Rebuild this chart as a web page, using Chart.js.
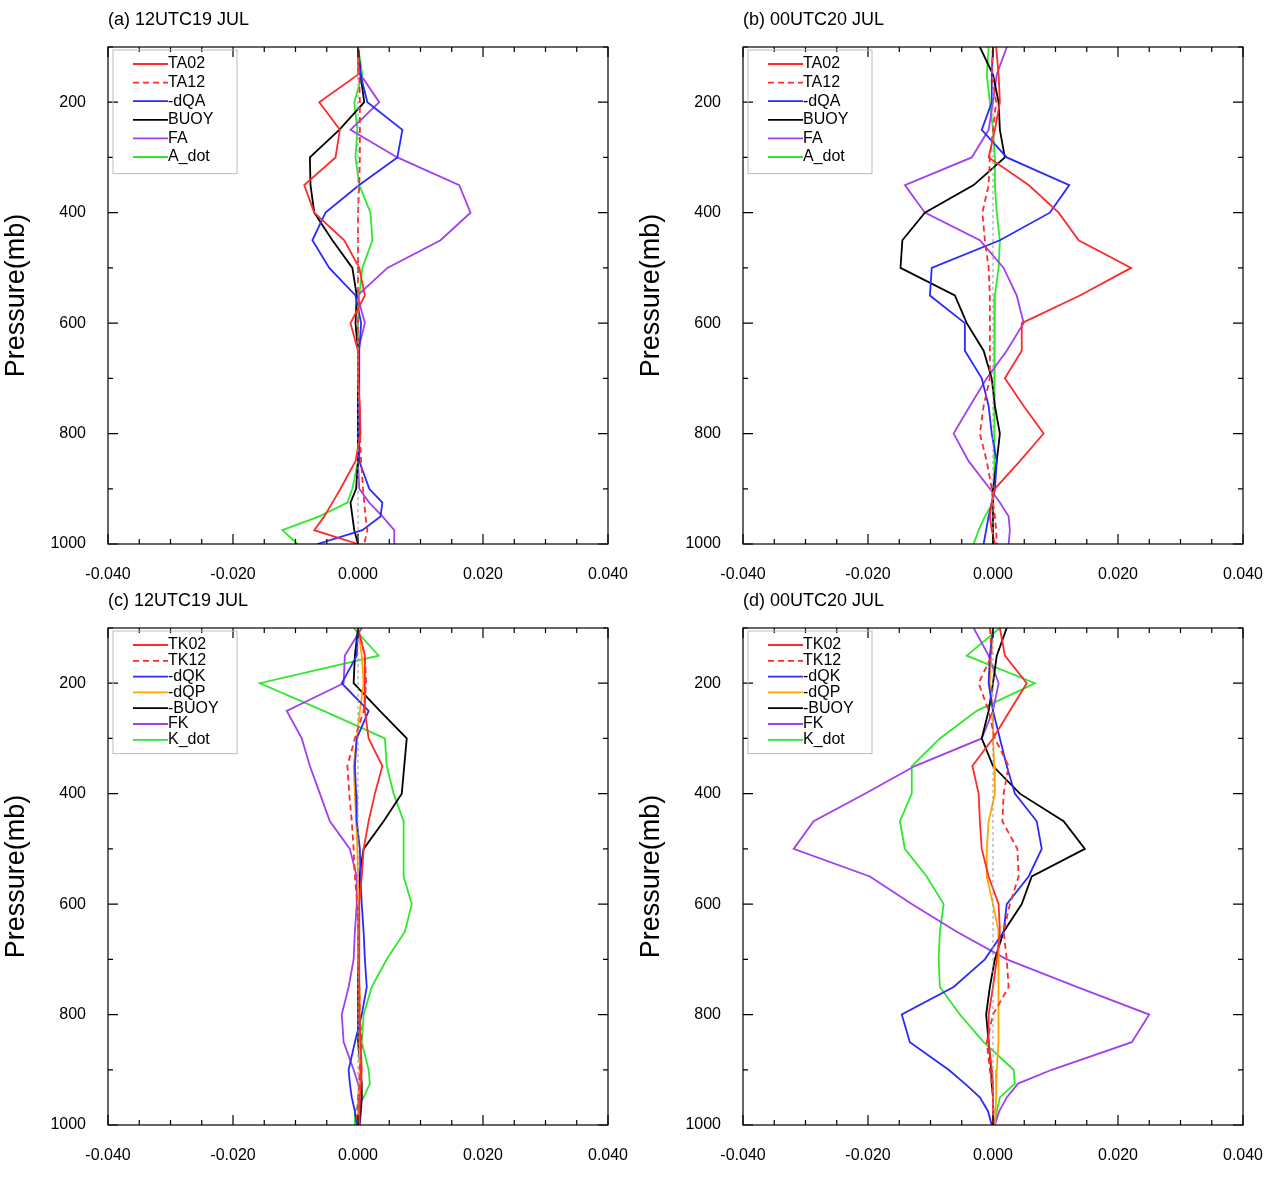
<!DOCTYPE html>
<html>
<head>
<meta charset="utf-8">
<script src="https://cdn.jsdelivr.net/npm/chart.js@4"></script>
<style>
  body { margin: 0; background: #fff; width: 1269px; height: 1179px; position: relative; overflow: hidden; }
  .pan { position: absolute; }
</style>
</head>
<body>
<div class="pan" style="left:0;top:0;width:635px;height:590px"><canvas id="ca"></canvas></div>
<div class="pan" style="left:635px;top:0;width:634px;height:590px"><canvas id="cb"></canvas></div>
<div class="pan" style="left:0;top:581px;width:635px;height:590px"><canvas id="cc"></canvas></div>
<div class="pan" style="left:635px;top:581px;width:634px;height:590px"><canvas id="cd"></canvas></div>
<script>
// pressure levels (mb); values in 1e-3 units
const levels = [100,150,200,250,300,350,400,450,500,550,600,650,700,750,800,850,900,925,950,975,1000];
const xTicks = [-0.04, -0.02, 0, 0.02, 0.04];
const yTicks = [200, 400, 600, 800, 1000];

// (a) 12UTC19 JUL
const aTA02 = [0,0,-6.2,-2.9,-3.6,-8.6,-7.0,-2.2,0.2,1.1,-1.2,0,0,0.3,0.4,-0.4,-2.8,-4.1,-5.4,-7.0,0];
const aTA12 = [0,0.2,0.3,0.3,0.3,0.2,0,0,0,0,0,0,0,0.2,0.3,0.5,0.8,1.0,1.2,1.5,1.0];
const aDQA  = [0,0.4,1.5,7.1,6.3,0.2,-5.2,-7.3,-4.6,-0.4,0.5,0.2,0.2,0.2,0.2,0.2,1.8,3.9,3.6,0.7,-6.5];
const aBUOY = [0,0.4,1.0,-3.0,-7.7,-7.6,-7.0,-4.1,-0.9,-0.2,-0.4,0,0,0,0,0,-0.3,-1.2,-0.9,-0.6,0];
const aFA   = [0,0.4,3.4,-1.2,6.3,16.2,18.0,13.2,4.7,-0.1,1.1,0,0,0,0,0,0.2,1.8,3.9,5.8,5.8];
const aADOT = [0,0.7,-0.6,-0.1,-0.4,0.2,2.0,2.3,0.7,0.2,0,0,0,0,0,0,-0.9,-1.7,-6.2,-12.1,-9.7];

// (b) 00UTC20 JUL
const bTA02 = [0.5,0.9,1.1,0.3,-0.7,5.7,10.5,13.7,22.1,13.9,4.6,4.6,1.9,4.9,8.1,4.3,0.3,-0.2,-0.5,-0.2,0.3];
const bTA12 = [0,-0.2,0.5,0,-0.5,-0.7,-1.7,-1.3,-0.7,-0.5,-0.5,-0.5,-0.5,-1.5,-2.1,-1.0,-0.2,0,0.3,0.5,0.6];
const bDQA  = [0,-0.2,-0.2,-1.8,2.2,12.2,9.1,1.1,-9.8,-10.1,-4.5,-4.5,-1.8,-0.7,-0.2,0.6,0.3,-0.2,-0.7,-1.1,-1.5];
const bBUOY = [-2.1,0,0.9,1.1,1.9,-3.1,-10.9,-14.5,-14.8,-6.1,-4.2,-1.5,-0.2,0.3,1.1,0.6,0,0,0,0,0];
const bFA   = [2.2,0.6,0,-0.7,-3.4,-14.1,-10.9,-2.1,1.7,3.8,4.9,2.2,-1.0,-3.7,-6.3,-3.9,-0.5,1.1,2.5,2.7,2.5];
const bADOT = [-0.7,-1.0,-0.5,0,0.3,0.3,0.6,1.1,0.9,0.3,0.2,0.2,0.2,0.2,0.2,0.2,0.3,0,-1.3,-2.3,-3.1];

// (c) 12UTC19 JUL
const cTK02 = [0,1.1,1.1,1.1,1.7,3.9,2.7,1.7,0.9,0.6,0.2,0.2,0.2,0.2,0.2,0.4,0.6,0.5,0.3,0.2,0.2];
const cTK12 = [0,1.1,1.3,0.9,-0.5,-1.7,-1.4,-1.0,-0.7,-0.5,-0.1,0,0.1,0.2,0.3,0.6,0.3,0.2,0,-0.1,-0.2];
const cDQK  = [0,-0.2,-2.6,1.7,-0.2,-0.5,-0.3,-0.2,0.3,0.4,0.6,0.9,1.1,1.4,0.6,-0.5,-1.5,-1.3,-1.0,-0.5,-0.2];
const cDQP  = [0,0.6,0.9,0.3,-0.2,-0.7,-0.5,-0.3,-0.1,0,0,0,0.1,0.2,0.3,0.3,0.3,0.2,0.1,0,-0.1];
const cBUOY = [0,-0.5,-0.7,3.5,7.8,7.4,7.0,4.1,0.9,0.2,0.1,0,0,0,0,0.1,0.4,0.6,0.6,0.4,0.2];
const cFK   = [0.6,-2.1,-2.3,-11.4,-9.0,-7.7,-6.1,-4.5,-1.3,-0.2,-0.2,-0.5,-0.7,-1.5,-2.6,-2.3,-0.7,0,0.6,0.5,0.3];
const cKDOT = [-0.7,3.3,-15.7,-5.5,4.3,4.6,5.7,7.3,7.3,7.3,8.6,7.5,4.6,2.2,0.9,0.6,1.7,1.9,0.9,-0.5,-0.5];

// (d) 00UTC20 JUL
const dTK02 = [1.1,1.9,5.4,2.7,0,-3.3,-2.3,-2.1,-1.8,-0.7,0.9,1.1,0.6,0,-0.7,-0.7,-0.2,0,0,0,0];
const dTK12 = [-0.5,-0.2,-2.3,-0.7,0.3,2.5,1.7,1.5,3.9,4.1,2.7,1.7,2.2,2.5,0,-1.0,-0.5,-0.2,0,0.1,0.1];
const dDQK  = [0,-0.5,-0.7,0,1.1,2.2,3.5,7.0,7.8,5.7,2.2,1.7,-1.3,-6.3,-14.6,-13.3,-7.1,-4.5,-2.1,-0.8,-0.2];
const dDQP  = [0,-0.3,-0.5,0,0,0.2,0.3,-0.7,-1.0,-1.0,0,0.9,0.9,0.9,0.9,0.8,0.6,0.5,0.5,0.4,0.3];
const dBUOY = [2.2,0.6,0,-0.7,-1.8,0,4.3,11.3,14.7,6.2,4.6,1.7,0.3,-0.5,-1.1,-0.7,-0.3,-0.2,0,0,0];
const dFK   = [-3.1,-0.7,0.9,0,-1.8,-12.5,-20.5,-28.7,-31.9,-19.7,-13.0,-5.8,2.2,13.4,25.0,22.2,9.4,4.0,2.2,1.0,0.3];
const dKDOT = [1.1,-4.2,6.7,-2.6,-8.5,-13.0,-13.0,-14.9,-14.1,-10.6,-7.9,-8.5,-8.7,-8.5,-5.3,-1.5,3.3,3.5,1.1,0.6,0.3];

const RED = '#ff2a2a', BLUE = '#2a2aff', BLACK = '#000', PURPLE = '#a23ff0', GREEN = '#2ee82e', ORANGE = '#ffa500';
const FONT = '"Liberation Sans", Arial, sans-serif';

function series(label, vals, color, dash) {
  return {
    label, borderColor: color, borderWidth: 1.8, borderDash: dash || [], pointRadius: 0,
    data: levels.map((p, i) => ({ x: vals[i] * 0.001, y: p }))
  };
}

const ncl = {
  id: 'ncl',
  afterDraw(chart, args, o) {
    const ctx = chart.ctx, a = chart.chartArea, sx = chart.scales.x, sy = chart.scales.y;
    ctx.save();
    ctx.strokeStyle = '#000'; ctx.lineWidth = 1.2;
    ctx.strokeRect(a.left, a.top, a.right - a.left, a.bottom - a.top);
    ctx.beginPath();
    for (let v = -0.04; v <= 0.0401; v += 0.005) {
      const x = sx.getPixelForValue(v), L = Math.abs(Math.round(v * 1000) % 20) === 0 ? 10 : 5;
      ctx.moveTo(x, a.bottom); ctx.lineTo(x, a.bottom - L);
      ctx.moveTo(x, a.top); ctx.lineTo(x, a.top + L);
    }
    for (let p = 100; p <= 1000; p += 100) {
      const y = sy.getPixelForValue(p), L = p % 200 === 0 ? 10 : 5;
      ctx.moveTo(a.left, y); ctx.lineTo(a.left + L, y);
      ctx.moveTo(a.right, y); ctx.lineTo(a.right - L, y);
    }
    ctx.stroke();
    ctx.fillStyle = '#000';
    ctx.font = '16px ' + FONT;
    ctx.textAlign = 'center'; ctx.textBaseline = 'middle';
    xTicks.forEach(v => ctx.fillText(v.toFixed(3), sx.getPixelForValue(v), a.bottom + 31));
    ctx.textAlign = 'right';
    yTicks.forEach(p => ctx.fillText(String(p), a.left - 22, sy.getPixelForValue(p)));
    ctx.font = '18px ' + FONT; ctx.textAlign = 'left';
    ctx.fillText(o.title, a.left, a.top - 27);
    ctx.save();
    ctx.translate(a.left - 91, (a.top + a.bottom) / 2);
    ctx.rotate(-Math.PI / 2);
    ctx.font = '27px ' + FONT; ctx.textAlign = 'center';
    ctx.fillText('Pressure(mb)', 0, 0);
    ctx.restore();
    // legend
    const ds = chart.data.datasets.filter(d => !d.hidden && d.label);
    const row = ds.length > 6 ? 15.8 : 18.6;
    const bx = a.left + 5, by = a.top + 3, bh = row * ds.length + 12;
    ctx.strokeStyle = '#bbb'; ctx.lineWidth = 1; ctx.strokeRect(bx, by, 124, bh);
    ctx.font = '16px ' + FONT; ctx.textAlign = 'left';
    ds.forEach((d, i) => {
      const y = by + 14 + i * row;
      ctx.strokeStyle = d.borderColor; ctx.lineWidth = 1.8; ctx.setLineDash(d.borderDash);
      ctx.beginPath(); ctx.moveTo(bx + 20, y); ctx.lineTo(bx + 55, y); ctx.stroke();
      ctx.setLineDash([]);
      ctx.fillStyle = '#000'; ctx.fillText(d.label, bx + 55, y);
    });
    ctx.restore();
  }
};

function panel(id, title, sets, padRight) {
  const zero = { label: '', borderColor: '#999', borderWidth: 1, borderDash: [3, 3], pointRadius: 0,
    data: [{ x: 0, y: 100 }, { x: 0, y: 1000 }] };
  new Chart(document.getElementById(id), {
    type: 'line',
    data: { datasets: [zero].concat(sets) },
    options: {
      responsive: true, maintainAspectRatio: false, animation: false,
      layout: { padding: { left: 108, top: 47, right: padRight, bottom: 46 } },
      scales: {
        x: { type: 'linear', min: -0.04, max: 0.04, display: false },
        y: { type: 'linear', min: 100, max: 1000, reverse: true, display: false }
      },
      plugins: { legend: { display: false }, tooltip: { enabled: false }, ncl: { title } }
    },
    plugins: [ncl]
  });
}

panel('ca', '(a) 12UTC19 JUL', [
  series('TA02', aTA02, RED), series('TA12', aTA12, RED, [6, 4]), series('-dQA', aDQA, BLUE),
  series('BUOY', aBUOY, BLACK), series('FA', aFA, PURPLE), series('A_dot', aADOT, GREEN)], 27);
panel('cb', '(b) 00UTC20 JUL', [
  series('TA02', bTA02, RED), series('TA12', bTA12, RED, [6, 4]), series('-dQA', bDQA, BLUE),
  series('BUOY', bBUOY, BLACK), series('FA', bFA, PURPLE), series('A_dot', bADOT, GREEN)], 26);
panel('cc', '(c) 12UTC19 JUL', [
  series('TK02', cTK02, RED), series('TK12', cTK12, RED, [6, 4]), series('-dQK', cDQK, BLUE),
  series('-dQP', cDQP, ORANGE), series('-BUOY', cBUOY, BLACK), series('FK', cFK, PURPLE), series('K_dot', cKDOT, GREEN)], 27);
panel('cd', '(d) 00UTC20 JUL', [
  series('TK02', dTK02, RED), series('TK12', dTK12, RED, [6, 4]), series('-dQK', dDQK, BLUE),
  series('-dQP', dDQP, ORANGE), series('-BUOY', dBUOY, BLACK), series('FK', dFK, PURPLE), series('K_dot', dKDOT, GREEN)], 26);
</script>
</body>
</html>
